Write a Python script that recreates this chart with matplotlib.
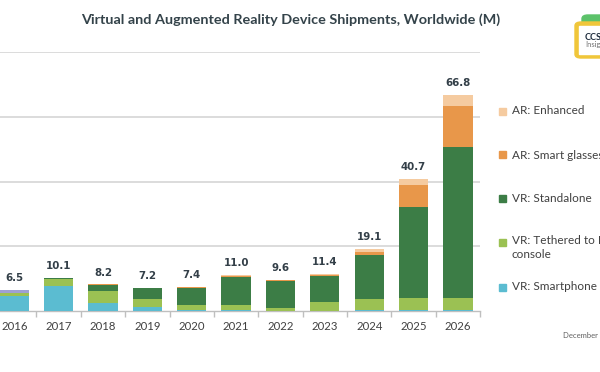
import matplotlib
matplotlib.use("Agg")
import matplotlib.pyplot as plt
import numpy as np
from matplotlib.patches import FancyBboxPatch, Rectangle

#     *****     dati     *****
years = ["2016", "2017", "2018", "2019", "2020", "2021", "2022", "2023", "2024", "2025", "2026"]
smartphone = [4.6, 7.6, 2.4, 1.3, 0.4, 0.4, 0.1, 0.1, 0.3, 0.3, 0.3]
tethered = [1.1, 2.3, 3.9, 2.4, 1.5, 1.3, 0.8, 2.7, 3.3, 3.7, 3.8]
standalone = [0.0, 0.2, 1.8, 3.5, 5.1, 8.8, 8.4, 8.1, 13.7, 28.0, 46.6]
smart_glasses = [0.0, 0.0, 0.1, 0.0, 0.3, 0.3, 0.2, 0.3, 1.0, 6.8, 12.7]
enhanced = [0.0, 0.0, 0.0, 0.0, 0.1, 0.2, 0.1, 0.2, 0.8, 1.9, 3.4]
other = [0.8, 0, 0, 0, 0, 0, 0, 0, 0, 0, 0]
totals = ["6.5", "10.1", "8.2", "7.2", "7.4", "11.0", "9.6", "11.4", "19.1", "40.7", "66.8"]

series = [
    ("VR: Smartphone shell", smartphone, "#5bbcd1"),
    ("VR: Tethered to PC or\nconsole", tethered, "#9bc153"),
    ("VR: Standalone", standalone, "#3c7d46"),
    ("AR: Smart glasses", smart_glasses, "#e8974a"),
    ("AR: Enhanced", enhanced, "#f5cba0"),
    ("_other", other, "#9fa0d4"),
]

W, H = 600, 372
fig = plt.figure(figsize=(6, 3.72), dpi=100)
ax = fig.add_axes([-7.9 / W, 61 / H, 488 / W, 259 / H])

x = np.arange(len(years))
bottom = np.zeros(len(years))
for name, vals, col in series:
    ax.bar(x, vals, width=0.66, bottom=bottom, color=col, zorder=3, linewidth=0)
    bottom += np.array(vals)

for xi, top, lab in zip(x, bottom, totals):
    ax.annotate(lab, (xi, top), xytext=(0, 5), textcoords="offset points",
                ha="center", va="bottom", fontsize=7.4, fontweight="bold",
                color="#333f48", family="DejaVu Sans")

ax.set_xlim(-0.5, len(years) - 0.5)
ax.set_ylim(0, 80)
ax.set_yticks([20, 40, 60, 80])
ax.yaxis.grid(True, color="#d9d9d9", linewidth=1.3, zorder=0)
ax.tick_params(axis="y", length=0, labelleft=False)
ax.set_xticks(x)
ax.set_xticklabels(years, fontsize=8.2, color="#404040", family="Lato")
ax.set_xticks(np.arange(len(years) + 1) - 0.5, minor=True)
ax.tick_params(axis="x", which="major", length=0, pad=7)
ax.tick_params(axis="x", which="minor", length=4, color="#bfbfbf", width=1)
for s in ["top", "right", "left"]:
    ax.spines[s].set_visible(False)
ax.spines["bottom"].set_color("#bfbfbf")
ax.spines["bottom"].set_linewidth(1)

fig.text(291 / W, 1 - 20 / H, "Virtual and Augmented Reality Device Shipments, Worldwide (M)",
         ha="center", va="center", fontsize=10.4, fontweight="bold", color="#34434a", family="Lato")

# legenda fatta a mano (tagliata a destra come nell'originale)
leg_rows = [("AR: Enhanced", "#f5cba0", 111), ("AR: Smart glasses", "#e8974a", 155),
            ("VR: Standalone", "#3c7d46", 199), ("VR: Tethered to PC or\nconsole", "#9bc153", 242),
            ("VR: Smartphone shell", "#5bbcd1", 287)]
for lab, col, yy in leg_rows:
    fig.patches.append(Rectangle((499 / W, 1 - (yy + 3.5) / H), 7 / W, 7 / H, color=col,
                                 transform=fig.transFigure, figure=fig))
    if "\n" in lab:
        fig.text(512 / W, 1 - (yy - 7) / H, lab, ha="left", va="top",
                 fontsize=8.5, color="#404040", family="Lato", linespacing=1.35)
    else:
        fig.text(512 / W, 1 - yy / H, lab, ha="left", va="center",
                 fontsize=8.5, color="#404040", family="Lato")

fig.text(563 / W, 1 - 335 / H, "December 2022", fontsize=5.5, color="#606060", va="center", family="Lato")

# logo CCS
fig.patches.append(FancyBboxPatch((582 / W, 1 - 42 / H), 60 / W, 27 / H, boxstyle="round,pad=0,rounding_size=0.01",
                                  color="#5cc26a", transform=fig.transFigure, figure=fig))
fig.patches.append(FancyBboxPatch((575 / W, 1 - 58 / H), 60 / W, 36 / H, boxstyle="round,pad=0,rounding_size=0.01",
                                  color="#f0c63a", transform=fig.transFigure, figure=fig))
fig.patches.append(Rectangle((579 / W, 1 - 54 / H), 60 / W, 28 / H, color="white",
                             transform=fig.transFigure, figure=fig))
fig.text(585 / W, 1 - 37 / H, "CCS", fontsize=6.5, fontweight="bold", color="#1f2d3d", va="center", family="Lato")
fig.text(585 / W, 1 - 45 / H, "Insight", fontsize=5.5, color="#707070", va="center", family="Lato")

fig.savefig("out.png", dpi=100)
